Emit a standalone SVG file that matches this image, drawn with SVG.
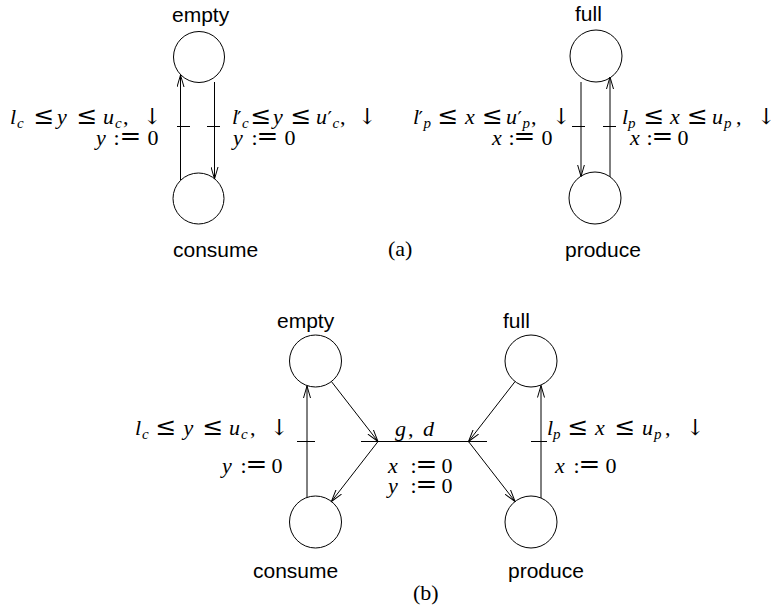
<svg xmlns="http://www.w3.org/2000/svg" width="776" height="610" viewBox="0 0 776 610">
<style>
.st{fill:#fff;stroke:#000;stroke-width:1}
.ln{fill:none;stroke:#000;stroke-width:1}
.nm{font-family:"Liberation Sans","DejaVu Sans",sans-serif;font-size:21px;fill:#000}
.m{font-family:"Liberation Serif","DejaVu Serif",serif;font-size:22px;fill:#000}
.i{font-style:italic}
.s{font-style:italic;font-size:15px}
.pr{font-family:"DejaVu Sans",sans-serif;font-size:20px}
.le{font-family:"DejaVu Serif",serif;font-size:25px}
.eq{font-family:"DejaVu Serif",serif;font-size:26px}
.ar{font-family:"DejaVu Serif","DejaVu Sans",serif;font-size:22px}
</style>
<defs>
<marker id="arr" markerUnits="userSpaceOnUse" markerWidth="13" markerHeight="8" viewBox="0 0 13 8" refX="12" refY="4" orient="auto">
<path d="M0,0.5 L12,4 L0,7.5" fill="none" stroke="#000" stroke-width="1"/>
</marker>
</defs>
<rect width="776" height="610" fill="#fff"/>

<!-- (a) nodes -->
<g id="a-empty"><circle class="st" cx="199" cy="57" r="25.5"/><text class="nm" x="172" y="22">empty</text></g>
<g id="a-consume"><circle class="st" cx="198.5" cy="198.5" r="25.5"/><text class="nm" x="173" y="257">consume</text></g>
<g id="a-full"><circle class="st" cx="596" cy="56" r="26"/><text class="nm" x="575" y="21">full</text></g>
<g id="a-produce"><circle class="st" cx="595" cy="198" r="26"/><text class="nm" x="565" y="257">produce</text></g>
<text class="m" x="388" y="256">(a)</text>

<!-- (b) nodes -->
<g id="b-empty"><circle class="st" cx="315.5" cy="361" r="26"/><text class="nm" x="277" y="328">empty</text></g>
<g id="b-consume"><circle class="st" cx="315.5" cy="522" r="26"/><text class="nm" x="253" y="578">consume</text></g>
<g id="b-full"><circle class="st" cx="531" cy="361" r="26"/><text class="nm" x="503" y="328">full</text></g>
<g id="b-produce"><circle class="st" cx="531" cy="522" r="26"/><text class="nm" x="508" y="578">produce</text></g>
<text class="m" x="413" y="600">(b)</text>

<!-- connectors -->
<g id="connectors" class="ln">
<path d="M180.5,180 V75" marker-end="url(#arr)"/>
<path d="M214.5,82 V179" marker-end="url(#arr)"/>
<path d="M581,82 V176.5" marker-end="url(#arr)"/>
<path d="M610,177 V77" marker-end="url(#arr)"/>
<path d="M177,126.5 H190 M207,126.5 H220 M572,126.5 H585 M603,126.5 H616"/>
<path d="M331.4,381.5 L378,441.5" marker-end="url(#arr)"/>
<path d="M378,441.5 L331.4,501.5" marker-end="url(#arr)"/>
<path d="M515.1,381.5 L468.5,441.5" marker-end="url(#arr)"/>
<path d="M468.5,441.5 L515.1,501.5" marker-end="url(#arr)"/>
<path d="M361,441.5 H487"/>
<path d="M307,497.4 V386" marker-end="url(#arr)"/>
<path d="M541,498 V385.5" marker-end="url(#arr)"/>
<path d="M297,441.5 H315 M531,441.5 H547"/>
</g>

<!-- edge labels -->
<g id="labels">
<!-- A1 -->
<text class="m"><tspan class="i" x="10" y="124">l</tspan><tspan class="s" x="17" y="128">c</tspan><tspan class="le" x="33.5" y="124">≤</tspan><tspan class="i" x="57" y="124">y</tspan><tspan class="le" x="76.5" y="124">≤</tspan><tspan class="i" x="103" y="124">u</tspan><tspan class="s" x="115" y="128">c</tspan><tspan x="123" y="124">,</tspan><tspan class="ar" x="143" y="124">↓</tspan></text>
<text class="m"><tspan class="i" x="96" y="145">y</tspan><tspan x="113.5" y="145">:</tspan><tspan class="eq" x="119.5" y="145">=</tspan><tspan x="147.5" y="145">0</tspan></text>
<!-- A2 -->
<text class="m"><tspan class="i" x="232" y="124">l</tspan><tspan class="pr" x="237" y="125">′</tspan><tspan class="s" x="242" y="128">c</tspan><tspan class="le" x="250.5" y="124">≤</tspan><tspan class="i" x="273" y="124">y</tspan><tspan class="le" x="290.5" y="124">≤</tspan><tspan class="i" x="316" y="124">u</tspan><tspan class="pr" x="327.5" y="125">′</tspan><tspan class="s" x="332.5" y="128">c</tspan><tspan x="340" y="124">,</tspan><tspan class="ar" x="358" y="124">↓</tspan></text>
<text class="m"><tspan class="i" x="233" y="145">y</tspan><tspan x="251.5" y="145">:</tspan><tspan class="eq" x="256.4" y="145">=</tspan><tspan x="284.5" y="145">0</tspan></text>
<!-- A3 -->
<text class="m"><tspan class="i" x="413" y="124">l</tspan><tspan class="pr" x="418.5" y="125">′</tspan><tspan class="s" x="423.5" y="128">p</tspan><tspan class="le" x="437.5" y="124">≤</tspan><tspan class="i" x="465" y="124">x</tspan><tspan class="le" x="482" y="124">≤</tspan><tspan class="i" x="506" y="124">u</tspan><tspan class="pr" x="517.5" y="125">′</tspan><tspan class="s" x="522.5" y="128">p</tspan><tspan x="531" y="124">,</tspan><tspan class="ar" x="552" y="124">↓</tspan></text>
<text class="m"><tspan class="i" x="492" y="145">x</tspan><tspan x="508.5" y="145">:</tspan><tspan class="eq" x="513.4" y="145">=</tspan><tspan x="541.5" y="145">0</tspan></text>
<!-- A4 -->
<text class="m"><tspan class="i" x="622" y="124">l</tspan><tspan class="s" x="628" y="128">p</tspan><tspan class="le" x="643.5" y="124">≤</tspan><tspan class="i" x="670" y="124">x</tspan><tspan class="le" x="687" y="124">≤</tspan><tspan class="i" x="712" y="124">u</tspan><tspan class="s" x="724" y="128">p</tspan><tspan x="736" y="124">,</tspan><tspan class="ar" x="757" y="124">↓</tspan></text>
<text class="m"><tspan class="i" x="630" y="145">x</tspan><tspan x="646.5" y="145">:</tspan><tspan class="eq" x="651.4" y="145">=</tspan><tspan x="677.5" y="145">0</tspan></text>
<!-- B1 -->
<text class="m"><tspan class="i" x="135" y="435">l</tspan><tspan class="s" x="142" y="439">c</tspan><tspan class="le" x="155.5" y="435">≤</tspan><tspan class="i" x="183.5" y="435">y</tspan><tspan class="le" x="202.5" y="435">≤</tspan><tspan class="i" x="229" y="435">u</tspan><tspan class="s" x="241" y="439">c</tspan><tspan x="250" y="435">,</tspan><tspan class="ar" x="270" y="435">↓</tspan></text>
<text class="m"><tspan class="i" x="222" y="473">y</tspan><tspan x="240.5" y="473">:</tspan><tspan class="eq" x="245.4" y="473">=</tspan><tspan x="271.5" y="473">0</tspan></text>
<!-- B2 -->
<text class="m"><tspan class="i" x="395" y="436">g</tspan><tspan x="408" y="436">,</tspan><tspan class="i" x="423" y="436">d</tspan></text>
<text class="m"><tspan class="i" x="388" y="473">x</tspan><tspan x="410.5" y="473">:</tspan><tspan class="eq" x="415.4" y="473">=</tspan><tspan x="441.5" y="473">0</tspan></text>
<text class="m"><tspan class="i" x="388" y="493">y</tspan><tspan x="410.5" y="493">:</tspan><tspan class="eq" x="415.4" y="493">=</tspan><tspan x="441.5" y="493">0</tspan></text>
<!-- B3 -->
<text class="m"><tspan class="i" x="547" y="435">l</tspan><tspan class="s" x="553" y="439">p</tspan><tspan class="le" x="567.5" y="435">≤</tspan><tspan class="i" x="595" y="435">x</tspan><tspan class="le" x="614.5" y="435">≤</tspan><tspan class="i" x="642" y="435">u</tspan><tspan class="s" x="654" y="439">p</tspan><tspan x="665" y="435">,</tspan><tspan class="ar" x="686" y="435">↓</tspan></text>
<text class="m"><tspan class="i" x="555" y="473">x</tspan><tspan x="573.5" y="473">:</tspan><tspan class="eq" x="578.4" y="473">=</tspan><tspan x="605.5" y="473">0</tspan></text>
</g>
</svg>
